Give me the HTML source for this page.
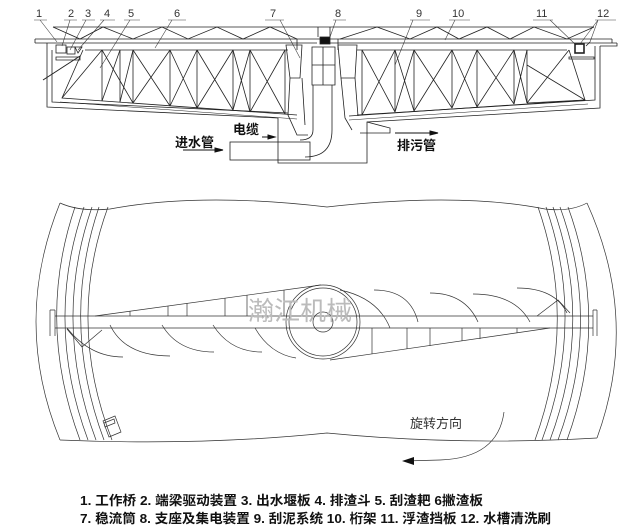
<!DOCTYPE html>
<html><head><meta charset="utf-8"><style>
html,body{margin:0;padding:0;background:#fff;}
svg{display:block;}
text{font-family:"Liberation Sans","Noto Sans CJK SC",sans-serif;}
</style></head><body>
<svg width="637" height="530" viewBox="0 0 637 530" xmlns="http://www.w3.org/2000/svg">
<g fill="none" stroke="#222" stroke-width="0.8">
<!-- ===== SECTION VIEW ===== -->
<g stroke-width="0.6" stroke="#444">
<path d="M34,20H47 M40,20L57,42"/>
<path d="M64,20H77 M70,20L62,46"/>
<path d="M82,20H95 M86,20L70,50"/>
<path d="M100,20H115 M104,20L78,50"/>
<path d="M124,20H140 M130,20L100,68"/>
<path d="M168,20H186 M172,20L155,48"/>
<path d="M265,20H284 M280,20L300,58"/>
<path d="M333,20H346 M336,20L330,37"/>
<path d="M410,20H430 M413,20L395,65"/>
<path d="M449,20H470 M455,20L445,40"/>
<path d="M533,20H553 M550,20L576,45"/>
<path d="M595,20H616 M598,20L580,44 M598,20L590,42"/>
</g>
<path d="M53,27H594"/>
<path d="M53,27L80,39L103,27L133,39L162,27L188,39L217,27L243,39L270,27L297,39 M340,39L377,27L410,39L437,27L459,39L487,27L510,39L534,27L567,39L594,27"/>
<path d="M35,39H612 M35,43H317 M330,43H617 M35,39V43 M612,39V43 M617,43V46H600"/>
<path d="M85,50H288 M357,50H567"/>
<path d="M297,39V50 M338,39V50 M318,27V37 M330,27V37"/>
<rect x="320" y="37" width="10" height="7" fill="#111"/>
<path d="M47,43V107L278,118V163H367V122L600,108V46"/>
<path d="M52,50V102L288,113"/>
<path d="M595,46V100L357,115"/>
<rect x="56" y="45" width="10" height="8"/><rect x="67" y="47" width="8" height="7"/>
<path d="M75,47H82L78,53Z"/>
<path d="M56,57H80V60H56Z"/>
<path d="M43,80L80,56" stroke-width="1"/>
<rect x="575" y="44" width="9" height="9" stroke-width="1.6"/>
<path d="M569,57H594V59H569Z"/>
<path d="M586,46L590,42"/>
<path d="M83,50L62,98L297,115"/>
<path d="M102,50V101 M120,50V102 M133,50V103 M170,50V106 M197,50V108 M233,50V110 M250,50V112 M285,50V114"/>
<path d="M62,98L102,50 M102,101L120,50 M102,50L133,103 M120,102L133,50 M133,103L170,50 M133,50L170,106 M170,106L197,50 M170,50L197,108 M197,108L233,50 M197,50L233,110 M233,110L250,50 M233,50L250,112 M250,112L285,50 M250,50L285,114"/>
<path d="M60,102L297,119" stroke-width="0.5"/>
<path d="M569,50L585,100L349,116"/>
<path d="M395,50V112 M414,50V111 M452,50V108 M477,50V107 M514,50V104 M527,50V103 M362,50V115"/>
<path d="M362,115L395,50 M362,50L395,112 M395,112L414,50 M395,50L414,111 M414,111L452,50 M414,50L452,108 M452,108L477,50 M452,50L477,107 M477,107L514,50 M477,50L514,104 M514,104L527,50 M514,50L527,103 M527,103L585,100 M527,65L585,100 M527,103L569,50"/>
<path d="M349,120L588,104" stroke-width="0.5"/>
<path d="M286,45H302L300,78H290Z"/>
<path d="M338,45H357L355,78H341Z"/>
<path d="M312,47H335V85H312Z M323,47V85 M312,65H335"/>
<path d="M313,85V130 M332,85V130Q332,157 305,157 M313,130Q313,140 300,140"/>
<path d="M290,78L288,115L297,135H308 M302,78L305,125"/>
<path d="M341,78L345,118L352,130 M355,78L358,116"/>
<rect x="230" y="142" width="80" height="18"/>
<path d="M367,122L390,128V133H360"/>
</g>
<g stroke="#111" stroke-width="1">
<path d="M183,150H220"/><path d="M215,148L223,150L215,152Z" fill="#111"/>
<path d="M262,137H272"/><path d="M268,135L275,137L268,139Z" fill="#111"/>
<path d="M395,133H437"/><path d="M430,131L438,133L430,135Z" fill="#111"/>
</g>
<g font-size="11" fill="#333">
<text x="36" y="17">1</text><text x="68" y="17">2</text><text x="85" y="17">3</text>
<text x="104" y="17">4</text><text x="128" y="17">5</text><text x="174" y="17">6</text>
<text x="270" y="17">7</text><text x="335" y="17">8</text><text x="416" y="17">9</text>
<text x="452" y="17">10</text><text x="536" y="17">11</text><text x="597" y="17">12</text>
</g>
<g font-size="13" font-weight="bold" fill="#111">
<text x="175" y="147">进水管</text>
<text x="233" y="134">电缆</text>
<text x="397" y="150">排污管</text>
</g>

<!-- ===== PLAN VIEW ===== -->
<g fill="none" stroke="#333" stroke-width="0.7">
<path d="M60,203Q80,212 110,209Q200,192 327,207Q460,192 545,209Q570,212 587,203"/>
<path d="M60,440Q200,446 327,433Q460,446 597,438"/>
<path d="M60,203Q12,322 60,440"/>
<path d="M587,203Q640,320 597,438"/>
<path d="M75,207Q36,322 80,440 M84,207Q44,322 88,440 M92,207Q52,322 96,440 M99,207Q60,322 104,440 M108,207Q66,322 112,440"/>
<path d="M568,207Q610,322 567,440 M560,207Q602,322 558,440 M553,207Q594,322 550,440 M546,207Q586,322 542,440 M538,207Q578,322 535,440"/>
<path d="M55,316H593 M55,328H593"/>
<path d="M50,310V336 M55,310V336 M50,310H55 M593,310V336 M597,310V336 M593,310H597"/>
<circle cx="323" cy="322" r="37"/>
<circle cx="323" cy="322" r="34"/>
<circle cx="323" cy="322" r="10"/>
<path d="M95,316L321,285"/>
<path d="M130,311V316 M168,306V316 M187,303V316 M225,298V316 M247,295V316 M284,290V316"/>
<path d="M330,360L550,328"/>
<path d="M372,328V354 M407,328V349 M430,328V346 M462,328V341 M480,328V339 M517,328V333"/>
<path d="M67,329L82,347L102,330"/>
<path d="M537,316L558,300L570,313"/>
<path d="M374,290Q410,290 418,322 M430,293Q465,293 478,322 M473,294Q515,294 530,322 M517,288Q555,288 567,313 M340,290Q378,298 390,328"/>
<path d="M67,328Q90,357 123,357 M110,325Q125,356 170,356 M162,325Q178,352 214,352 M213,325Q230,352 262,352 M255,328Q270,354 296,358"/>
<path d="M103,421L115,416L121,432L109,437Z"/>
<path d="M104,423L114,419L115,423L105,427Z"/>
<path d="M504,412Q498,458 440,460L404,461"/>
</g>
<path d="M402,461L414,457L414,465Z" fill="#111"/>
<text x="300" y="320" font-size="26" fill="#bbb" text-anchor="middle">瀚江机械</text>
<text x="410" y="428" font-size="13" fill="#333">旋转方向</text>

<g font-size="13" font-weight="bold" fill="#111">
<text x="80" y="505" textLength="403" lengthAdjust="spacingAndGlyphs">1. 工作桥 2. 端梁驱动装置 3. 出水堰板 4. 排渣斗 5. 刮渣耙 6撇渣板</text>
<text x="80" y="523" textLength="471" lengthAdjust="spacingAndGlyphs">7. 稳流筒 8. 支座及集电装置 9. 刮泥系统 10. 桁架 11. 浮渣挡板 12. 水槽清洗刷</text>
</g>
</svg>
</body></html>
